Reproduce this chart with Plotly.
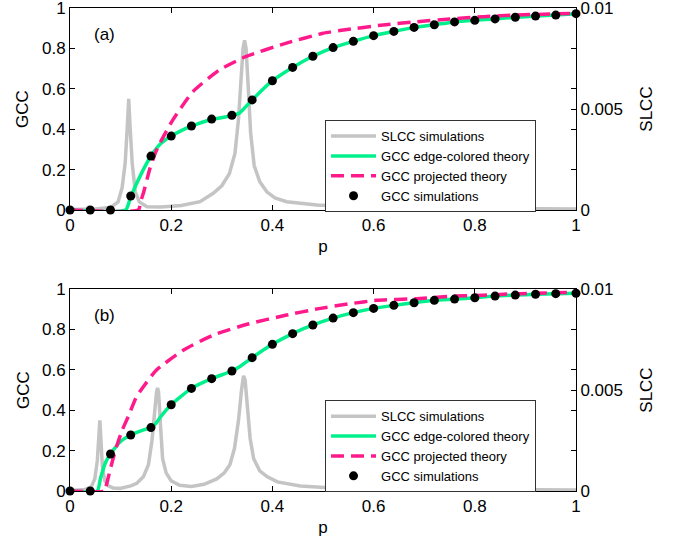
import plotly.graph_objects as go
from plotly.subplots import make_subplots

FONT = "Liberation Sans, Arial, Helvetica, sans-serif"
GRAY = "#c4c4c4"
GREEN = "#00f08c"
PINK = "#ff1a8c"

# ---------------- data: panel (a) ----------------
sim_p = [0, 0.04, 0.08, 0.12, 0.16, 0.20, 0.24, 0.28, 0.32, 0.36, 0.40, 0.44, 0.48,
         0.52, 0.56, 0.60, 0.64, 0.68, 0.72, 0.76, 0.80, 0.84, 0.88, 0.92, 0.96, 1.0]
a_sim_gcc = [0, 0, 0, 0.069, 0.267, 0.366, 0.416, 0.450, 0.469, 0.545, 0.640, 0.706, 0.761,
             0.804, 0.835, 0.863, 0.884, 0.904, 0.917, 0.931, 0.939, 0.946, 0.954, 0.960, 0.965, 0.972]

a_edge_p = [0, 0.11, 0.12, 0.14, 0.16, 0.18, 0.20, 0.22, 0.24, 0.28, 0.32, 0.335, 0.36, 0.40,
            0.44, 0.48, 0.52, 0.56, 0.60, 0.64, 0.68, 0.72, 0.76, 0.80, 0.84, 0.88, 0.92, 0.96, 1.0]
a_edge_gcc = [0, 0, 0.065, 0.175, 0.267, 0.330, 0.366, 0.393, 0.415, 0.448, 0.467, 0.480, 0.545, 0.640,
              0.706, 0.761, 0.804, 0.835, 0.863, 0.884, 0.904, 0.917, 0.931, 0.939, 0.946, 0.954, 0.960, 0.965, 0.972]

a_proj_p = [0, 0.135, 0.14, 0.145, 0.158, 0.17, 0.181, 0.203, 0.243, 0.295, 0.347, 0.426, 0.50,
            0.54, 0.619, 0.685, 0.751, 0.817, 0.883, 1.0]
a_proj_gcc = [0, 0, 0.045, 0.083, 0.206, 0.29, 0.347, 0.445, 0.586, 0.693, 0.759, 0.825, 0.875,
              0.891, 0.916, 0.932, 0.946, 0.957, 0.965, 0.974]

a_slcc_p = [0, 0.05, 0.08, 0.095, 0.103, 0.109, 0.113, 0.116, 0.119, 0.123, 0.129, 0.137, 0.152,
            0.18, 0.22, 0.257, 0.283, 0.30, 0.315, 0.326, 0.333, 0.338, 0.342, 0.345, 0.348, 0.352,
            0.357, 0.364, 0.375, 0.389, 0.405, 0.428, 0.488, 0.553, 0.65, 0.75, 0.85, 1.0]
a_slcc = [0.00002, 0.00005, 0.00012, 0.0004, 0.0011, 0.0023, 0.0040, 0.0055, 0.0040, 0.0023, 0.0009,
          0.0004, 0.00016, 0.00015, 0.00022, 0.00041, 0.00083, 0.0012, 0.0018, 0.0028, 0.0045, 0.0065,
          0.0080, 0.0084, 0.0080, 0.0062, 0.0038, 0.0022, 0.0014, 0.0009, 0.0006, 0.00041, 0.00025,
          0.00017, 0.00012, 0.00009, 0.00007, 0.00005]

# ---------------- data: panel (b) ----------------
b_sim_gcc = [0, 0, 0.183, 0.277, 0.314, 0.427, 0.508, 0.556, 0.594, 0.660, 0.726, 0.779, 0.822,
             0.856, 0.883, 0.904, 0.919, 0.932, 0.944, 0.950, 0.957, 0.965, 0.970, 0.974, 0.977, 0.979]

b_edge_p = [0, 0.054, 0.06, 0.07, 0.08, 0.10, 0.12, 0.14, 0.16, 0.17, 0.18, 0.20, 0.24, 0.28, 0.32,
            0.335, 0.36, 0.40, 0.44, 0.48, 0.52, 0.56, 0.60, 0.64, 0.68, 0.72, 0.76, 0.80, 0.84, 0.88,
            0.92, 0.96, 1.0]
b_edge_gcc = [0, 0, 0.06, 0.14, 0.183, 0.245, 0.277, 0.298, 0.314, 0.335, 0.370, 0.427, 0.508, 0.556,
              0.594, 0.615, 0.660, 0.726, 0.779, 0.822, 0.856, 0.883, 0.904, 0.919, 0.932, 0.944, 0.950,
              0.957, 0.965, 0.970, 0.974, 0.977, 0.979]

b_proj_p = [0, 0.069, 0.072, 0.076, 0.084, 0.092, 0.103, 0.115, 0.131, 0.145, 0.17, 0.223, 0.282,
            0.354, 0.426, 0.492, 0.553, 0.606, 0.685, 0.751, 0.817, 0.883, 1.0]
b_proj_gcc = [0, 0, 0.03, 0.071, 0.15, 0.22, 0.30, 0.368, 0.465, 0.516, 0.597, 0.696, 0.771,
              0.828, 0.870, 0.903, 0.927, 0.944, 0.952, 0.964, 0.969, 0.977, 0.983]

b_slcc_p = [0, 0.03, 0.042, 0.049, 0.054, 0.057, 0.059, 0.061, 0.064, 0.069, 0.076, 0.085, 0.099,
            0.12, 0.132, 0.145, 0.155, 0.162, 0.167, 0.171, 0.173, 0.175, 0.179, 0.183, 0.19, 0.20,
            0.217, 0.24, 0.265, 0.29, 0.305, 0.316, 0.325, 0.333, 0.339, 0.343, 0.346, 0.35, 0.356,
            0.363, 0.375, 0.39, 0.41, 0.455, 0.52, 0.60, 0.70, 0.80, 1.0]
b_slcc = [0.00002, 0.00008, 0.0002, 0.0006, 0.0015, 0.0026, 0.0035, 0.0026, 0.0012, 0.0005, 0.00025,
          0.00015, 0.00013, 0.00025, 0.00038, 0.0007, 0.0013, 0.0025, 0.0040, 0.0049, 0.0051, 0.0049,
          0.0032, 0.0016, 0.0009, 0.0005, 0.00028, 0.00022, 0.00033, 0.0006, 0.0009, 0.0013, 0.0021,
          0.0035, 0.0050, 0.0057, 0.0055, 0.0042, 0.0026, 0.0016, 0.0010, 0.0007, 0.00045, 0.00025,
          0.00015, 0.00011, 0.00009, 0.00007, 0.00005]

x_ticks = [0, 0.2, 0.4, 0.6, 0.8, 1]
x_ticklabels = ["0", "0.2", "0.4", "0.6", "0.8", "1"]
gcc_ticks = [0, 0.2, 0.4, 0.6, 0.8, 1]
gcc_ticklabels = ["0", "0.2", "0.4", "0.6", "0.8", "1"]
slcc_ticks = [0, 0.002, 0.004, 0.005, 0.006, 0.008, 0.01]
slcc_ticklabels = ["0", "", "", "0.005", "", "", "0.01"]

names = ["SLCC simulations", "GCC edge-colored theory", "GCC projected theory", "GCC simulations"]

panels = [
    (a_slcc_p, a_slcc, a_edge_p, a_edge_gcc, a_proj_p, a_proj_gcc, a_sim_gcc, "legend"),
    (b_slcc_p, b_slcc, b_edge_p, b_edge_gcc, b_proj_p, b_proj_gcc, b_sim_gcc, "legend2"),
]

fig = make_subplots(rows=2, cols=1, specs=[[{"secondary_y": True}], [{"secondary_y": True}]])

for row, (sp, sv, ep, ev, pp, pv, simv, leg) in enumerate(panels, start=1):
    # SLCC on the primary (right-hand) axis so it is drawn underneath
    fig.add_trace(go.Scatter(x=sp, y=sv, mode="lines", name=names[0], legend=leg,
                             line=dict(color=GRAY, width=3.5), cliponaxis=False),
                  row=row, col=1, secondary_y=False)
    fig.add_trace(go.Scatter(x=ep, y=ev, mode="lines", name=names[1], legend=leg,
                             line=dict(color=GREEN, width=3.5, shape="spline", smoothing=0.5),
                             cliponaxis=False),
                  row=row, col=1, secondary_y=True)
    fig.add_trace(go.Scatter(x=pp, y=pv, mode="lines", name=names[2], legend=leg,
                             line=dict(color=PINK, width=3.5, dash="13px,7px", shape="spline",
                                       smoothing=0.5),
                             cliponaxis=False),
                  row=row, col=1, secondary_y=True)
    fig.add_trace(go.Scatter(x=sim_p, y=simv, mode="markers", name=names[3], legend=leg,
                             marker=dict(color="black", size=9), cliponaxis=False),
                  row=row, col=1, secondary_y=True)

axis_common = dict(showline=True, linecolor="black", linewidth=1, ticks="inside", ticklen=5,
                   tickcolor="black", showgrid=False, zeroline=False, automargin=False,
                   ticklabeloverflow="allow",
                   tickfont=dict(family=FONT, size=17, color="black"))

top_dom = [0.5818, 1.0]
bot_dom = [0.0, 0.4182]

for xa in ("xaxis", "xaxis2"):
    fig.layout[xa].update(domain=[0, 1], range=[0, 1], tickvals=x_ticks, ticktext=x_ticklabels,
                          mirror="ticks",
                          title=dict(text="p", font=dict(family=FONT, size=17, color="black"),
                                     standoff=5),
                          **axis_common)

# primary (right) SLCC axes
for ya, dom in (("yaxis", top_dom), ("yaxis3", bot_dom)):
    fig.layout[ya].update(domain=dom, range=[0, 0.01], side="right", tickvals=slcc_ticks,
                          ticktext=slcc_ticklabels, mirror=True,
                          title=dict(text="SLCC", font=dict(family=FONT, size=17, color="black"),
                                     standoff=18),
                          **axis_common)
# secondary (left) GCC axes
for ya, dom in (("yaxis2", top_dom), ("yaxis4", bot_dom)):
    fig.layout[ya].update(domain=dom, range=[0, 1], side="left", tickvals=gcc_ticks,
                          ticktext=gcc_ticklabels,
                          title=dict(text="GCC", font=dict(family=FONT, size=17, color="black"),
                                     standoff=8),
                          **axis_common)

legend_common = dict(xanchor="left", yanchor="top", x=0.504, bgcolor="white",
                     bordercolor="#333333", borderwidth=1, itemwidth=45, tracegroupgap=0,
                     font=dict(family=FONT, size=13, color="black"))

fig.update_layout(
    width=681, height=539,
    margin=dict(l=70, r=105, t=8, b=48),
    paper_bgcolor="white", plot_bgcolor="white",
    font=dict(family=FONT, size=14, color="black"),
    legend=dict(y=0.768, **legend_common),
    legend2=dict(y=0.188, **legend_common),
    annotations=[
        dict(text="(a)", x=0.069, y=0.87, xref="x domain", yref="y domain", showarrow=False,
             xanchor="center", yanchor="middle", font=dict(family=FONT, size=17, color="black")),
        dict(text="(b)", x=0.069, y=0.87, xref="x2 domain", yref="y3 domain", showarrow=False,
             xanchor="center", yanchor="middle", font=dict(family=FONT, size=17, color="black")),
    ],
)

fig.write_html("out.html", config={"displayModeBar": False},
               post_script="document.body.style.margin='0px';")
